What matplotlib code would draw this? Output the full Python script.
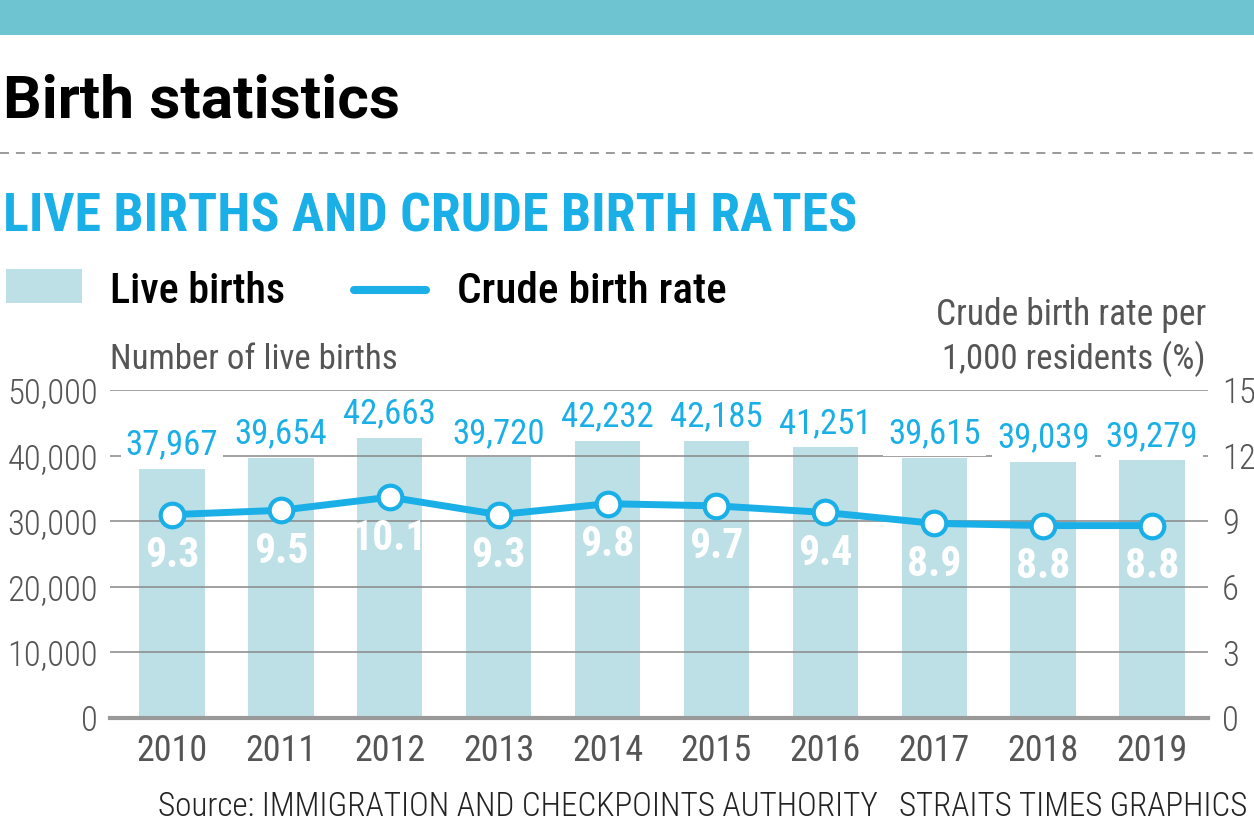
import matplotlib
matplotlib.use('Agg')
import matplotlib.pyplot as plt
from matplotlib.lines import Line2D
from matplotlib.patches import Rectangle

# ---- data ----
years = ['2010', '2011', '2012', '2013', '2014', '2015', '2016', '2017', '2018', '2019']
live_births = [37967, 39654, 42663, 39720, 42232, 42185, 41251, 39615, 39039, 39279]
crude_rate = [9.3, 9.5, 10.1, 9.3, 9.8, 9.7, 9.4, 8.9, 8.8, 8.8]
left_ticks = [0, 10000, 20000, 30000, 40000, 50000]
right_ticks = [0, 3, 6, 9, 12, 15]

W, H = 1254, 830
BLUE = '#1aafe6'
BAR = '#bde0e6'
TEAL = '#6ec4d0'
GRAY = '#555555'
COND = 'Roboto Condensed'

fig = plt.figure(figsize=(W / 100, H / 100), dpi=100)
fig.patch.set_facecolor('white')
renderer = fig.canvas.get_renderer()


def fx(x):
    return x / W


def fy(y):
    return 1 - y / H


def fit_text(s, x, y, width, ha='left', va='baseline', **kw):
    t = fig.text(fx(x), fy(y), s, ha=ha, va=va, **kw)
    w = t.get_window_extent(renderer).width
    t.set_fontsize(t.get_fontsize() * width / w)
    return t


# top banner
fig.add_artist(Rectangle((0, fy(35)), 1, 35 / H, transform=fig.transFigure,
                         facecolor=TEAL, edgecolor='none'))

# title
fit_text('Birth statistics', 3, 118, 397, family='Roboto', weight='bold',
         color='black', fontsize=43)

# dashed separator
fig.add_artist(Line2D([0, 1], [fy(153), fy(153)], transform=fig.transFigure,
                      color='#9a9a9a', lw=1.4, linestyle=(0, (4.6, 3.6))))

# subtitle
fit_text('LIVE BIRTHS AND CRUDE BIRTH RATES', 3, 232, 854, family=COND,
         weight='bold', color=BLUE, fontsize=36)

# legend
fig.add_artist(Rectangle((fx(6), fy(303)), 76 / W, 34 / H, transform=fig.transFigure,
                         facecolor=BAR, edgecolor='none'))
fit_text('Live births', 110, 303, 175, family=COND, weight=500, color='black', fontsize=27)
fig.add_artist(Line2D([fx(354), fx(426)], [fy(290), fy(290)], transform=fig.transFigure,
                      color=BLUE, lw=5.8, solid_capstyle='round'))
fit_text('Crude birth rate', 457, 303, 270, family=COND, weight=500, color='black', fontsize=27)

# axis titles
fit_text('Number of live births', 110, 369, 288, family=COND, weight='normal',
         color=GRAY, fontsize=22)
fit_text('Crude birth rate per', 1206, 325, 271, ha='right', family=COND,
         weight='normal', color=GRAY, fontsize=22)
fit_text('1,000 residents (%)', 1206, 369, 264, ha='right', family=COND,
         weight='normal', color=GRAY, fontsize=22)

# source
fit_text('Source: IMMIGRATION AND CHECKPOINTS AUTHORITY', 158, 816, 719,
         family=COND, weight=300, color='#222222', fontsize=22)
fit_text('STRAITS TIMES GRAPHICS', 1247, 816, 347, ha='right',
         family=COND, weight=300, color='#222222', fontsize=22)

# ---- axes ----
ax = fig.add_axes([fx(110), fy(718), (1208 - 110) / W, (718 - 390) / H])
ax.patch.set_alpha(0)
x = list(range(len(years)))
ax.bar(x, live_births, width=0.6, color=BAR, zorder=1)
ax.set_xlim(-0.569, 9.514)
ax.set_ylim(0, 50000)
ax.set_yticks(left_ticks)
ax.set_yticklabels([f'{v:,}' for v in left_ticks])
ax.set_xticks(x)
ax.set_xticklabels(years)
for s in ax.spines.values():
    s.set_visible(False)
ax.grid(axis='y', color='#888888', lw=1.1, zorder=1.5)
ax.set_axisbelow('line')
ax.tick_params(axis='y', length=0, pad=8.6, labelsize=25, labelcolor=GRAY)
ax.tick_params(axis='x', length=0, pad=10.5, labelsize=26, labelcolor=GRAY)
for lab in ax.get_yticklabels():
    lab.set_family(COND)
    lab.set_weight(300)
for lab in ax.get_xticklabels():
    lab.set_family(COND)
    lab.set_weight('normal')
ax.axhline(0, color='#999999', lw=3, zorder=2, clip_on=False)

for xi, v in zip(x, live_births):
    ax.annotate(f'{v:,}', (xi, v), xytext=(0, 10.5), textcoords='offset points',
                ha='center', va='baseline', fontsize=25, family=COND, color=BLUE,
                zorder=3, annotation_clip=False,
                bbox=dict(boxstyle='square,pad=0.15', fc='white', ec='none'))

ax2 = ax.twinx()
ax2.set_ylim(0, 15)
ax2.set_yticks(right_ticks)
ax2.set_yticklabels([str(v) for v in right_ticks])
for s in ax2.spines.values():
    s.set_visible(False)
ax2.tick_params(axis='y', length=0, pad=10, labelsize=25, labelcolor=GRAY)
for lab in ax2.get_yticklabels():
    lab.set_family(COND)
    lab.set_weight(300)
ax2.plot(x, crude_rate, color=BLUE, lw=5, marker='o', markersize=17,
         markerfacecolor='white', markeredgecolor=BLUE, markeredgewidth=3, zorder=4)
for xi, r in zip(x, crude_rate):
    ax2.annotate(f'{r}', (xi, r), xytext=(0, -29.5), textcoords='offset points',
                 ha='center', va='center', fontsize=30, family=COND,
                 weight='bold', color='white', zorder=5)

fig.savefig('out.png', dpi=100)
